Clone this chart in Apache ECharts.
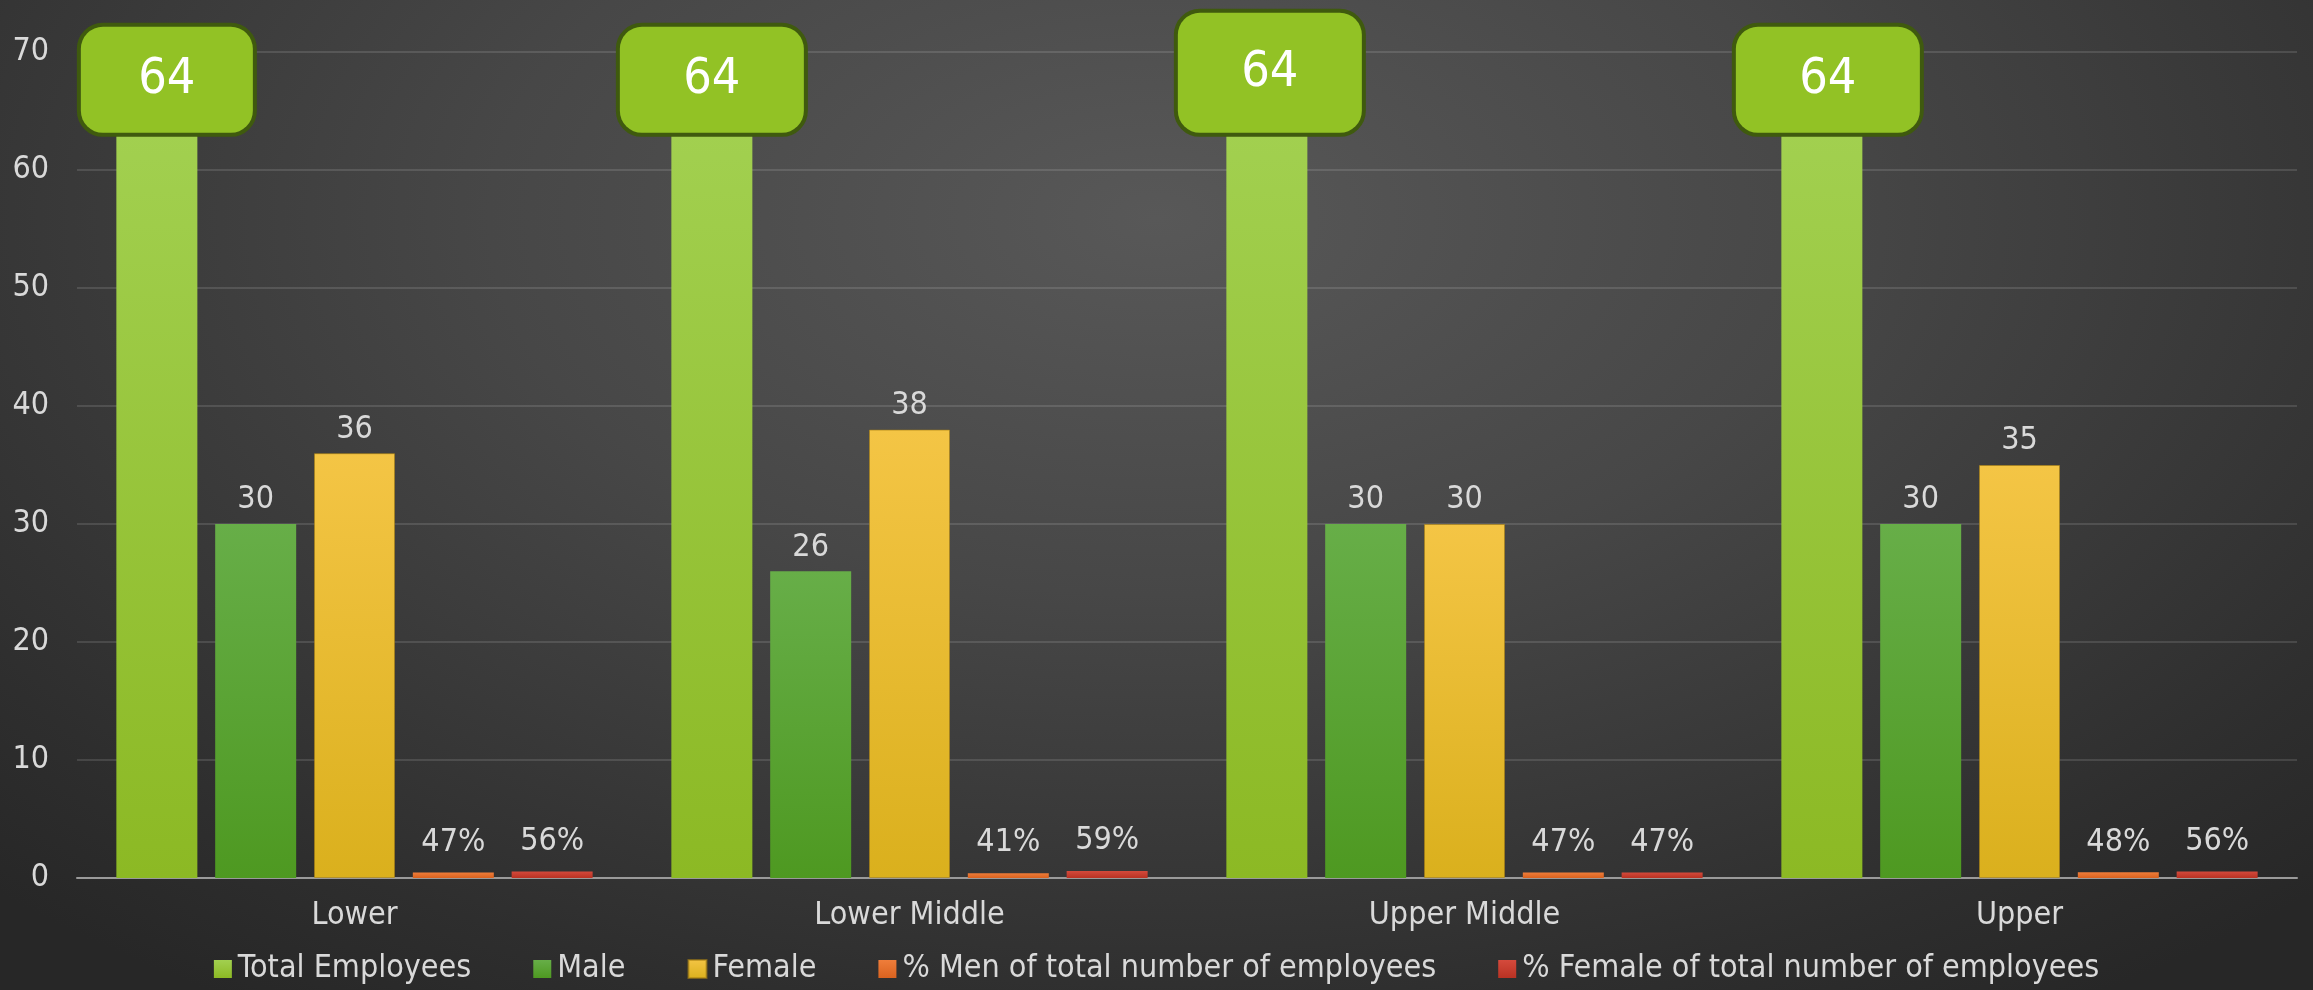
<!DOCTYPE html>
<html>
<head>
<meta charset="utf-8">
<script src="https://cdn.jsdelivr.net/npm/echarts@6/dist/echarts.min.js"></script>
<style>
html,body{margin:0;padding:0;width:2313px;height:990px;overflow:hidden;}
#main{width:2313px;height:990px;background:radial-gradient(ellipse 72% 95% at 50% 22%, #585858 0%, #474747 40%, #2e2e2e 85%, #272727 100%);}
</style>
</head>
<body>
<div id="main"></div>
<script>
const categories = ['Lower', 'Lower Middle', 'Upper Middle', 'Upper'];
const totalEmployees = [64, 64, 64, 64];
const male = [30, 26, 30, 30];
const female = [36, 38, 30, 35];
const pctMen = [0.47, 0.41, 0.47, 0.48];
const pctFemale = [0.56, 0.59, 0.47, 0.56];
const yTicks = [0, 10, 20, 30, 40, 50, 60, 70];

const FONT = "'DejaVu Sans Condensed', 'Liberation Sans Narrow', 'Open Sans', sans-serif";
const textColor = '#d9d9d9';
const FS = 32;

function vgrad(top, bottom) {
  return new echarts.graphic.LinearGradient(0, 0, 0, 1, [
    { offset: 0, color: top }, { offset: 1, color: bottom }
  ]);
}

const chart = echarts.init(document.getElementById('main'), null, { renderer: 'canvas' });

const barWidth = 81;
const labelCommon = { show: true, position: 'top', distance: 8, color: textColor, fontSize: FS, fontFamily: FONT };

// label box style for total employees
const totalLabel = {
  show: true, position: 'top', distance: -10,
  color: '#ffffff', fontSize: 50, fontFamily: FONT,
  backgroundColor: '#92c225', borderColor: '#3f5a0e', borderWidth: 4, borderRadius: 22,
  width: 184, height: 106, lineHeight: 106, align: 'center'
};
const totalLabelOverrides = [
  { width: 172, offset: [10, 0] },
  {},
  { height: 120, lineHeight: 120, offset: [3, 0] },
  { offset: [6, 0] }
];

const option = {
  backgroundColor: 'transparent',
  animation: false,
  textStyle: { fontFamily: FONT },
  grid: { left: 77, right: 16, top: 52, bottom: 112, containLabel: false },
  legend: {
    bottom: 0, left: 'center',
    itemWidth: 18, itemHeight: 18, itemGap: 62,
    icon: 'rect',
    textStyle: { color: textColor, fontSize: FS, fontFamily: FONT, padding: [0, 0, 0, 1] },
    data: ['Total Employees', 'Male', 'Female', '% Men of total number of employees', '% Female of total number of employees']
  },
  xAxis: {
    type: 'category', data: categories,
    axisLine: { lineStyle: { color: '#9a9a9a', width: 2 } },
    axisTick: { show: false },
    axisLabel: { color: textColor, fontSize: FS, fontFamily: FONT, margin: 22 }
  },
  yAxis: {
    type: 'value', min: yTicks[0], max: yTicks[yTicks.length - 1], interval: 10,
    axisLine: { show: false }, axisTick: { show: false },
    axisLabel: { color: textColor, fontSize: FS, fontFamily: FONT, margin: 28 },
    splitLine: { lineStyle: { color: 'rgba(255,255,255,0.12)', width: 2 } }
  },
  series: [
    {
      name: 'Total Employees', type: 'bar', barWidth: barWidth, barGap: '22%',
      itemStyle: { color: vgrad('#a2d050', '#8cb924') },
      data: totalEmployees.map((v, i) => ({ value: v, label: Object.assign({}, totalLabel, totalLabelOverrides[i]) })),
      label: totalLabel, z: 3
    },
    {
      name: 'Male', type: 'bar', barWidth: barWidth, barGap: '22%',
      itemStyle: { color: vgrad('#67ae48', '#4e9921') },
      data: male, label: labelCommon
    },
    {
      name: 'Female', type: 'bar', barWidth: barWidth, barGap: '22%',
      itemStyle: { color: vgrad('#f4c545', '#dab01d'), borderColor: 'rgba(170,130,20,0.6)', borderWidth: 1 },
      data: female, label: labelCommon
    },
    {
      name: '% Men of total number of employees', type: 'bar', barWidth: barWidth, barGap: '22%',
      itemStyle: { color: vgrad('#ef7d3a', '#d9621f') },
      data: pctMen,
      label: Object.assign({}, labelCommon, { distance: 14, formatter: p => Math.round(p.value * 100) + '%' })
    },
    {
      name: '% Female of total number of employees', type: 'bar', barWidth: barWidth, barGap: '22%',
      itemStyle: { color: vgrad('#d44a3c', '#b93223') },
      data: pctFemale,
      label: Object.assign({}, labelCommon, { distance: 14, formatter: p => Math.round(p.value * 100) + '%' })
    }
  ]
};
chart.setOption(option);
</script>
</body>
</html>
